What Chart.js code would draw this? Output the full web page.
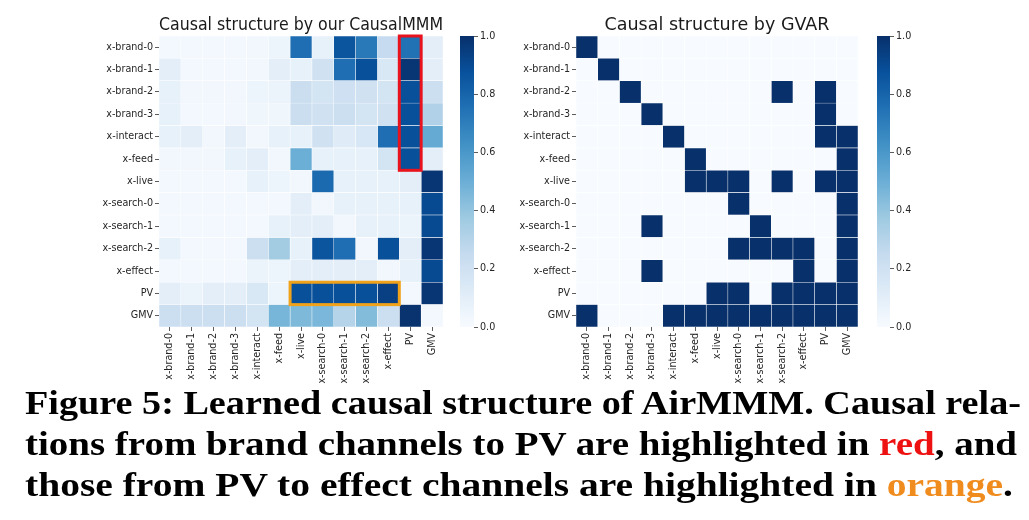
<!DOCTYPE html>
<html><head><meta charset="utf-8">
<script src="https://cdn.jsdelivr.net/npm/chart.js@4.4.0/dist/chart.umd.min.js"></script>
<style>
html,body{margin:0;padding:0;background:#fff;width:1029px;height:520px;overflow:hidden;}
.box{position:absolute;}
.box canvas{display:block;}
#caption{position:absolute;left:25px;top:383px;font-family:'Liberation Serif',serif;font-weight:bold;font-size:33px;line-height:41px;color:#000;}
#caption .ln{display:block;white-space:nowrap;transform-origin:0 0;width:max-content;}
.red{color:#ee1111;}
.orange{color:#f08c1e;}
</style></head><body>
<div class="box" style="left:0;top:0;"><canvas id="c1" width="450" height="400"></canvas></div>
<div class="box" style="left:455px;top:0;"><canvas id="cb1" width="50" height="340"></canvas></div>
<div class="box" style="left:500px;top:0;"><canvas id="c2" width="363" height="400"></canvas></div>
<div class="box" style="left:872px;top:0;"><canvas id="cb2" width="50" height="340"></canvas></div>
<div id="caption">
<span class="ln" data-w="996">Figure 5: Learned causal structure of AirMMM. Causal rela-</span>
<span class="ln" data-w="992">tions from brand channels to PV are highlighted in <span class="red">red</span>, and</span>
<span class="ln" data-w="988">those from PV to effect channels are highlighted in <span class="orange">orange</span>.</span>
</div>
<script>
// ---------------- data ----------------
const channels = ['x-brand-0','x-brand-1','x-brand-2','x-brand-3','x-interact','x-feed','x-live','x-search-0','x-search-1','x-search-2','x-effect','PV','GMV'];
const titleLeft = 'Causal structure by our CausalMMM';
const titleRight = 'Causal structure by GVAR';

// rows = cause (y axis), cols = effect (x axis)
const causalMMM = [
  [0.02,0.02,0.02,0.02,0.03,0.05,0.76,0.08,0.86,0.72,0.25,0.75,0.10],
  [0.10,0.02,0.02,0.02,0.03,0.10,0.08,0.20,0.76,0.88,0.15,0.98,0.10],
  [0.08,0.03,0.03,0.03,0.05,0.06,0.23,0.18,0.21,0.20,0.18,0.88,0.22],
  [0.08,0.02,0.02,0.03,0.04,0.04,0.23,0.20,0.22,0.18,0.20,0.88,0.32],
  [0.08,0.10,0.03,0.10,0.03,0.08,0.08,0.20,0.12,0.16,0.76,0.88,0.52],
  [0.03,0.03,0.03,0.08,0.10,0.03,0.50,0.08,0.08,0.08,0.18,0.88,0.10],
  [0.02,0.02,0.02,0.02,0.08,0.05,0.03,0.78,0.08,0.08,0.08,0.10,0.98],
  [0.02,0.02,0.02,0.02,0.02,0.02,0.10,0.03,0.08,0.08,0.08,0.08,0.90],
  [0.02,0.02,0.02,0.02,0.02,0.08,0.10,0.10,0.03,0.08,0.08,0.06,0.90],
  [0.08,0.02,0.02,0.02,0.22,0.36,0.08,0.86,0.76,0.03,0.88,0.10,0.98],
  [0.02,0.02,0.02,0.02,0.06,0.05,0.10,0.10,0.10,0.10,0.03,0.08,0.90],
  [0.10,0.06,0.10,0.10,0.15,0.05,0.88,0.88,0.88,0.88,0.94,0.02,0.98],
  [0.22,0.22,0.22,0.22,0.18,0.47,0.45,0.46,0.30,0.44,0.22,0.99,0.02]
];

const gvar = [
  [1,0,0,0,0,0,0,0,0,0,0,0,0],
  [0,1,0,0,0,0,0,0,0,0,0,0,0],
  [0,0,1,0,0,0,0,0,0,1,0,1,0],
  [0,0,0,1,0,0,0,0,0,0,0,1,0],
  [0,0,0,0,1,0,0,0,0,0,0,1,1],
  [0,0,0,0,0,1,0,0,0,0,0,0,1],
  [0,0,0,0,0,1,1,1,0,1,0,1,1],
  [0,0,0,0,0,0,0,1,0,0,0,0,1],
  [0,0,0,1,0,0,0,0,1,0,0,0,1],
  [0,0,0,0,0,0,0,1,1,1,1,0,1],
  [0,0,0,1,0,0,0,0,0,0,1,0,1],
  [0,0,0,0,0,0,1,1,0,1,1,1,1],
  [1,0,0,0,1,1,1,1,1,1,1,1,1]
];

const colorbarTicks = [0.0,0.2,0.4,0.6,0.8,1.0];

// highlight boxes on the CausalMMM map: [firstRow,lastRow,firstCol,lastCol,color]
const highlightRed    = [0,5,11,11,'#e8131c'];
const highlightOrange = [11,11,6,10,'#f0a21b'];

// ---------------- colour map (matplotlib Blues) ----------------
const bluesStops = [[247,251,255],[222,235,247],[198,219,239],[158,202,225],[107,174,214],[66,146,198],[33,113,181],[8,81,156],[8,48,107]];
function blues(v){
  v=Math.max(0,Math.min(1,v));
  const p=v*(bluesStops.length-1);
  const i=Math.min(Math.floor(p),bluesStops.length-2);
  const t=p-i;
  const a=bluesStops[i],b=bluesStops[i+1];
  return 'rgb('+a.map((c,k)=>Math.round(c+(b[k]-c)*t)).join(',')+')';
}

const FONT='DejaVu Sans';
const TXT='#262626';
Chart.defaults.font.family=FONT;
Chart.defaults.color=TXT;
Chart.defaults.animation=false;

const highlightPlugin={
  id:'highlight',
  afterDatasetsDraw(chart,args,opts){
    const boxes=opts.boxes||[];
    const xs=chart.scales.x, ys=chart.scales.y;
    const h=ys.height/channels.length;
    const c=chart.ctx;
    boxes.forEach(b=>{
      const [r0,r1,c0,c1,col]=b;
      const x0=xs.getPixelForValue(c0), x1=xs.getPixelForValue(c1+1);
      const y0=ys.getPixelForValue(r0)-h/2, y1=ys.getPixelForValue(r1)+h/2;
      c.save();c.strokeStyle=col;c.lineWidth=3;c.strokeRect(x0,y0,x1-x0,y1-y0);c.restore();
    });
  }
};

function heatmap(id,matrix,title,yWidth,padRight,boxes){
  const datasets=channels.map((name,j)=>({
    label:name,
    data:channels.map(()=>1),
    backgroundColor:matrix.map(row=>blues(row[j])),
    borderColor:'#ffffff',
    borderWidth:0.55,
    borderSkipped:false,
    barPercentage:1,
    categoryPercentage:1
  }));
  return new Chart(document.getElementById(id),{
    type:'bar',
    data:{labels:channels,datasets},
    options:{
      responsive:false,
      indexAxis:'y',
      layout:{padding:{left:0,right:padRight,top:0,bottom:0}},
      plugins:{
        legend:{display:false},
        tooltip:{enabled:false},
        title:{display:true,text:title,fullSize:false,color:'#1a1a1a',font:{family:FONT,size:17.5,weight:'normal'},padding:{top:14.5,bottom:0.5}},
        highlight:{boxes}
      },
      scales:{
        x:{
          type:'linear',stacked:true,min:0,max:channels.length,
          afterBuildTicks:s=>{s.ticks=channels.map((n,i)=>({value:i+0.5}));},
          afterFit:s=>{s.height=73;},
          ticks:{autoSkip:false,minRotation:90,maxRotation:90,padding:2,font:{size:9.6},color:TXT,
            callback:(v,i)=>channels[i]},
          grid:{display:true,drawOnChartArea:false,drawTicks:true,tickLength:4,color:'#333',lineWidth:0.8},
          border:{display:false}
        },
        y:{
          type:'category',stacked:true,
          afterFit:s=>{s.width=yWidth;},
          ticks:{autoSkip:false,padding:2,font:{size:9.6},color:TXT},
          grid:{display:true,offset:false,drawOnChartArea:false,drawTicks:true,tickLength:4,color:'#333',lineWidth:0.8},
          border:{display:false}
        }
      }
    },
    plugins:[highlightPlugin]
  });
}

function colorbar(id,axisWidth){
  return new Chart(document.getElementById(id),{
    type:'bar',
    data:{labels:[''],datasets:[{
      data:[[0,1]],
      barPercentage:1,categoryPercentage:1,borderWidth:0,
      backgroundColor:(ctx)=>{
        const a=ctx.chart.chartArea; if(!a) return blues(0.5);
        const g=ctx.chart.ctx.createLinearGradient(0,a.bottom,0,a.top);
        bluesStops.forEach((s,i)=>g.addColorStop(i/(bluesStops.length-1),'rgb('+s.join(',')+')'));
        return g;
      }
    }]},
    options:{
      responsive:false,
      layout:{padding:{left:5,right:0,top:36,bottom:13}},
      plugins:{legend:{display:false},tooltip:{enabled:false}},
      scales:{
        x:{display:false},
        y:{position:'right',min:0,max:1,
          afterBuildTicks:s=>{s.ticks=colorbarTicks.map(v=>({value:v}));},
          afterFit:s=>{s.width=axisWidth;},
          ticks:{padding:2,font:{size:9.6},color:TXT,callback:v=>Number(v).toFixed(1)},
          grid:{display:true,drawOnChartArea:false,drawTicks:true,tickLength:4,color:'#333',lineWidth:0.8},
          border:{display:false}
        }
      }
    }
  });
}

heatmap('c1',causalMMM,titleLeft,159,7,[highlightRed,highlightOrange]);
heatmap('c2',gvar,titleRight,76,5,[]);
colorbar('cb1',31);
colorbar('cb2',32);

// fit caption lines to their justified widths
document.querySelectorAll('#caption .ln').forEach(el=>{
  const w=el.getBoundingClientRect().width;
  const target=+el.dataset.w;
  el.style.transform='scaleX('+(target/w)+')';
});
</script>
</body></html>
